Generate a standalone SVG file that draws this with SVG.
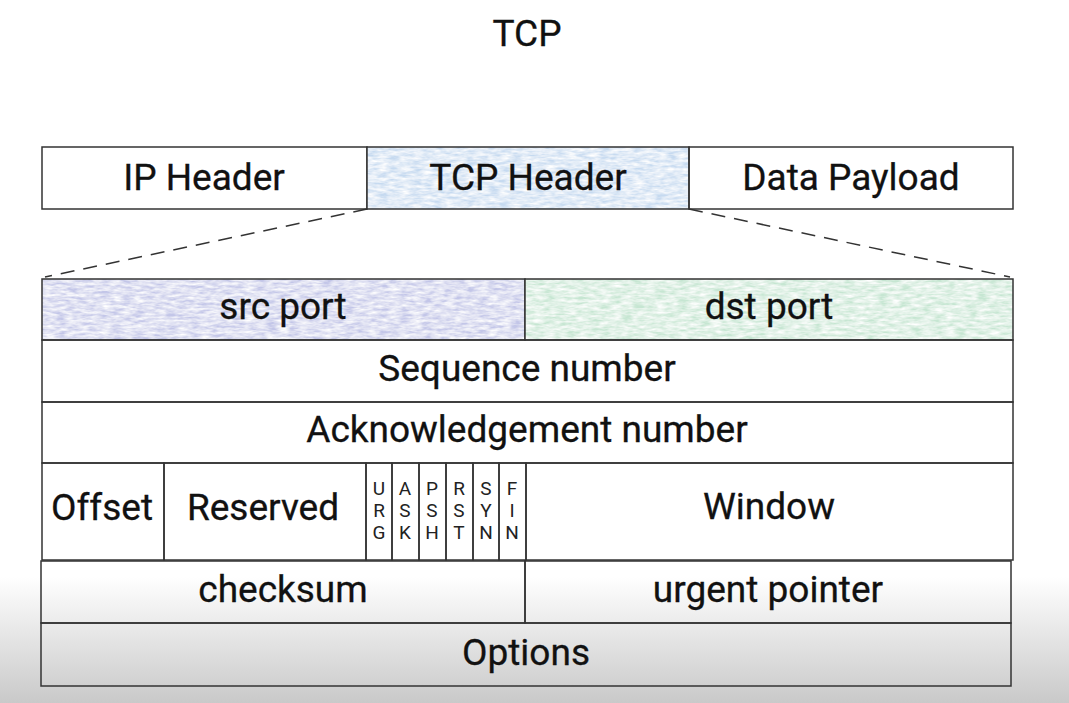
<svg xmlns="http://www.w3.org/2000/svg" width="1069" height="703" viewBox="0 0 1069 703">
<defs>
<linearGradient id="bg" x1="0" y1="0" x2="0" y2="1">
<stop offset="0" stop-color="#ffffff"/>
<stop offset="0.82" stop-color="#ffffff"/>
<stop offset="1" stop-color="#c9c9c9"/>
</linearGradient>
<filter id="tex" x="0" y="0" width="100%" height="100%">
<feTurbulence type="fractalNoise" baseFrequency="0.09 0.35" numOctaves="3" seed="4" result="n"/>
<feColorMatrix in="n" type="matrix" values="0 0 0 0 1  0 0 0 0 1  0 0 0 0 1  0 0 0 -1.6 1.25" result="w"/>
<feComposite in="w" in2="SourceGraphic" operator="atop"/>
</filter>
<style>
.b{fill:none;stroke:#333;stroke-width:1.5}
.t{font-family:Roboto,"Liberation Sans",sans-serif;font-size:37px;fill:#111;text-anchor:middle;stroke:#111;stroke-width:0.3}
.f{font-family:Roboto,"Liberation Sans",sans-serif;font-size:19px;fill:#222;text-anchor:middle}
.d{stroke:#333;stroke-width:1.5;stroke-dasharray:14 9;fill:none}
</style>
</defs>
<rect width="1069" height="703" fill="url(#bg)"/>
<text class="t" x="527" y="46">TCP</text>

<g id="ip-header"><rect class="b" x="42" y="147" width="325" height="62"/><text class="t" x="204" y="190">IP Header</text></g>
<g id="tcp-header"><rect x="367" y="147" width="322" height="62" fill="#c6daf0" filter="url(#tex)"/><rect class="b" x="367" y="147" width="322" height="62"/><text class="t" x="528" y="190">TCP Header</text></g>
<g id="data-payload"><rect class="b" x="689" y="147" width="324" height="62"/><text class="t" x="851" y="190">Data Payload</text></g>

<g id="connectors">
<line class="d" x1="367" y1="209" x2="45" y2="277"/>
<line class="d" x1="689" y1="209" x2="1010" y2="277"/>
</g>

<g id="src-port"><rect x="42" y="279" width="483" height="61" fill="#c3c6e8" filter="url(#tex)"/><rect class="b" x="42" y="279" width="483" height="61"/><text class="t" x="283" y="319">src port</text></g>
<g id="dst-port"><rect x="525" y="279" width="488" height="61" fill="#c6e6d2" filter="url(#tex)"/><rect class="b" x="525" y="279" width="488" height="61"/><text class="t" x="769" y="319">dst port</text></g>
<g id="sequence-number"><rect class="b" x="42" y="340" width="971" height="62"/><text class="t" x="527" y="381">Sequence number</text></g>
<g id="ack-number"><rect class="b" x="42" y="402" width="971" height="61"/><text class="t" x="527" y="442">Acknowledgement number</text></g>
<g id="offset"><rect class="b" x="42" y="463" width="122" height="97"/><text class="t" x="102" y="520">Offset</text></g>
<g id="reserved"><rect class="b" x="164" y="463" width="202" height="97"/><text class="t" x="263" y="520">Reserved</text></g>
<g id="flag-urg"><rect class="b" x="366" y="463" width="26" height="97"/><text class="f" x="379" y="495">U</text><text class="f" x="379" y="517">R</text><text class="f" x="379" y="539">G</text></g>
<g id="flag-ask"><rect class="b" x="392" y="463" width="27" height="97" stroke-width="2"/><text class="f" x="405" y="495">A</text><text class="f" x="405" y="517">S</text><text class="f" x="405" y="539">K</text></g>
<g id="flag-psh"><rect class="b" x="419" y="463" width="27" height="97"/><text class="f" x="432" y="495">P</text><text class="f" x="432" y="517">S</text><text class="f" x="432" y="539">H</text></g>
<g id="flag-rst"><rect class="b" x="446" y="463" width="27" height="97"/><text class="f" x="459" y="495">R</text><text class="f" x="459" y="517">S</text><text class="f" x="459" y="539">T</text></g>
<g id="flag-syn"><rect class="b" x="473" y="463" width="26" height="97" stroke-width="2"/><text class="f" x="486" y="495">S</text><text class="f" x="486" y="517">Y</text><text class="f" x="486" y="539">N</text></g>
<g id="flag-fin"><rect class="b" x="499" y="463" width="27" height="97"/><text class="f" x="512" y="495">F</text><text class="f" x="512" y="517">I</text><text class="f" x="512" y="539">N</text></g>
<g id="window"><rect class="b" x="526" y="463" width="487" height="97"/><text class="t" x="769" y="519">Window</text></g>
<g id="checksum"><rect class="b" x="41" y="561" width="484" height="62"/><text class="t" x="283" y="602">checksum</text></g>
<g id="urgent-pointer"><rect class="b" x="525" y="561" width="486" height="62"/><text class="t" x="768" y="602">urgent pointer</text></g>
<g id="options"><rect class="b" x="41" y="623" width="970" height="63"/><text class="t" x="526" y="665">Options</text></g>
</svg>
